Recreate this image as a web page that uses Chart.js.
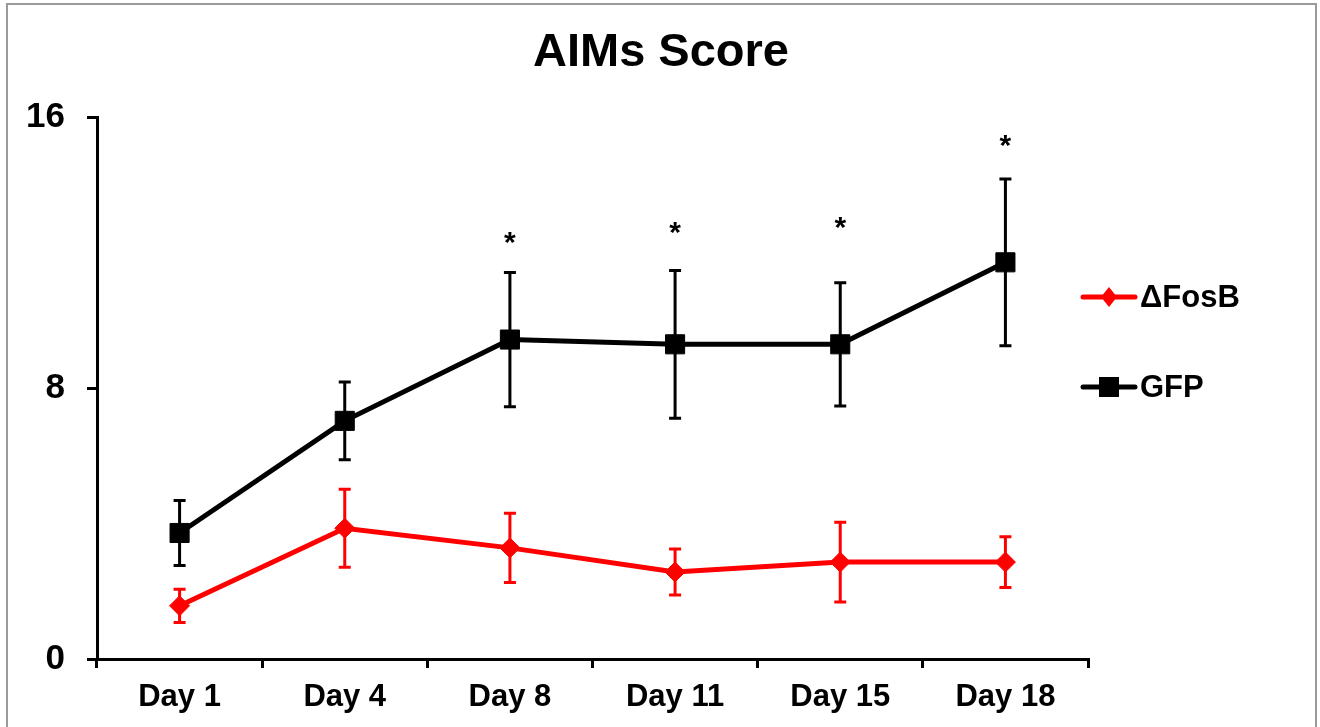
<!DOCTYPE html>
<html>
<head>
<meta charset="utf-8">
<script src="https://cdn.jsdelivr.net/npm/chart.js@4.4.1/dist/chart.umd.min.js"></script>
<style>
  html, body { margin: 0; padding: 0; background: #fff; overflow: hidden; }
  #wrap { position: relative; width: 1320px; height: 727px; }
  #wrap canvas { position: absolute; left: 0; top: 0; }
  #frame { position: absolute; left: 6px; top: 3px; width: 1311px; height: 760px;
           border: 2px solid #9a9a9a; box-sizing: border-box; pointer-events: none; }
</style>
</head>
<body>
<div id="wrap">
  <canvas id="chart" width="1320" height="727"></canvas>
  <div id="frame"></div>
</div>
<script>
// Abnormal involuntary movement scores per session (mean ± SEM)
const categories = ['Day 1', 'Day 4', 'Day 8', 'Day 11', 'Day 15', 'Day 18'];
const fosbMean = [1.57, 3.86, 3.28, 2.57, 2.86, 2.86];
const fosbSem  = [0.49, 1.15, 1.02, 0.68, 1.18, 0.75];
const gfpMean  = [3.72, 7.03, 9.43, 9.29, 9.29, 11.71];
const gfpSem   = [0.96, 1.15, 1.98, 2.18, 1.82, 2.46];
// heights of the significance asterisks (null = not significant)
const sigLevels = [null, null, 12.52, 12.81, 12.96, 15.38];
const yTicks = [0, 8, 16];
const seriesNames = ['\u0394FosB', 'GFP'];

const FONT = '"Liberation Sans", Arial, sans-serif';
const RED = '#ff0000';
const BLACK = '#000000';

// vertical error bars with caps
const errorBars = {
  id: 'errorBars',
  afterDatasetsDraw(chart) {
    const { ctx, scales: { x, y } } = chart;
    const sets = [[fosbMean, fosbSem, RED], [gfpMean, gfpSem, BLACK]];
    ctx.save();
    ctx.lineWidth = 3;
    ctx.lineCap = 'butt';
    sets.forEach(([mean, sem, color]) => {
      ctx.strokeStyle = color;
      mean.forEach((m, i) => {
        const px = x.getPixelForValue(i);
        const top = y.getPixelForValue(m + sem[i]);
        const bot = y.getPixelForValue(m - sem[i]);
        ctx.beginPath();
        ctx.moveTo(px, top); ctx.lineTo(px, bot);
        ctx.moveTo(px - 6, top); ctx.lineTo(px + 6, top);
        ctx.moveTo(px - 6, bot); ctx.lineTo(px + 6, bot);
        ctx.stroke();
      });
    });
    ctx.restore();
  }
};

// asterisks, title and legend
const annotations = {
  id: 'annotations',
  afterDraw(chart) {
    const { ctx, scales: { x, y } } = chart;
    ctx.save();
    ctx.fillStyle = BLACK;

    // significance marks
    const starSize = 30;
    ctx.font = 'bold ' + starSize + 'px ' + FONT;
    ctx.textAlign = 'center';
    ctx.textBaseline = 'alphabetic';
    sigLevels.forEach((lv, i) => {
      if (lv === null) return;
      ctx.fillText('*', x.getPixelForValue(i), y.getPixelForValue(lv) + 0.57 * starSize);
    });

    // title
    ctx.font = 'bold 47px ' + FONT;
    ctx.textAlign = 'center';
    ctx.textBaseline = 'middle';
    ctx.fillText('AIMs Score', 661, 53);

    // legend
    const entries = [
      { name: seriesNames[0], color: RED, shape: 'diamond', cy: 297 },
      { name: seriesNames[1], color: BLACK, shape: 'square', cy: 387 }
    ];
    entries.forEach(e => {
      ctx.strokeStyle = e.color;
      ctx.fillStyle = e.color;
      ctx.lineWidth = 5;
      ctx.lineCap = 'round';
      ctx.beginPath();
      ctx.moveTo(1083, e.cy); ctx.lineTo(1135, e.cy);
      ctx.stroke();
      ctx.beginPath();
      if (e.shape === 'square') {
        ctx.rect(1099, e.cy - 10, 20, 20);
      } else {
        ctx.moveTo(1109, e.cy - 10);
        ctx.lineTo(1117, e.cy);
        ctx.lineTo(1109, e.cy + 10);
        ctx.lineTo(1101, e.cy);
        ctx.closePath();
      }
      ctx.fill();
      ctx.fillStyle = BLACK;
      ctx.font = 'bold 31px ' + FONT;
      ctx.textAlign = 'left';
      ctx.textBaseline = 'middle';
      ctx.fillText(e.name, 1140, e.cy + 1);
    });
    ctx.restore();
  }
};

new Chart(document.getElementById('chart'), {
  type: 'line',
  data: {
    labels: categories,
    datasets: [
      {
        label: seriesNames[0],
        data: fosbMean,
        borderColor: RED,
        backgroundColor: RED,
        borderWidth: 5,
        tension: 0,
        pointStyle: 'rectRot',
        pointRadius: 10,
        pointBorderWidth: 1,
        pointBackgroundColor: RED,
        pointBorderColor: RED
      },
      {
        label: seriesNames[1],
        data: gfpMean,
        borderColor: BLACK,
        backgroundColor: BLACK,
        borderWidth: 5,
        tension: 0,
        pointStyle: 'rect',
        pointRadius: 13.5,
        pointBorderWidth: 1,
        pointBackgroundColor: BLACK,
        pointBorderColor: BLACK
      }
    ]
  },
  options: {
    responsive: false,
    devicePixelRatio: 1,
    animation: false,
    events: [],
    layout: { padding: { top: 117, right: 232, bottom: 0, left: 0 } },
    plugins: {
      legend: { display: false },
      title: { display: false },
      tooltip: { enabled: false }
    },
    scales: {
      x: {
        type: 'category',
        offset: true,
        afterFit(scale) { scale.height = 68; },
        grid: {
          offset: true,
          drawOnChartArea: false,
          drawTicks: true,
          tickLength: 9,
          color: BLACK,
          lineWidth: 3
        },
        border: { display: true, color: BLACK, width: 3 },
        ticks: {
          color: BLACK,
          padding: 11,
          maxRotation: 0,
          font: { family: FONT, size: 31, weight: 'bold' }
        }
      },
      y: {
        min: yTicks[0],
        max: yTicks[yTicks.length - 1],
        afterFit(scale) { scale.width = 97; },
        afterBuildTicks(scale) { scale.ticks = yTicks.map(v => ({ value: v })); },
        grid: {
          drawOnChartArea: false,
          drawTicks: true,
          tickLength: 10,
          color: BLACK,
          lineWidth: 3
        },
        border: { display: true, color: BLACK, width: 3 },
        ticks: {
          color: BLACK,
          padding: 22,
          font: { family: FONT, size: 35, weight: 'bold' }
        }
      }
    }
  },
  plugins: [errorBars, annotations]
});
</script>
</body>
</html>
